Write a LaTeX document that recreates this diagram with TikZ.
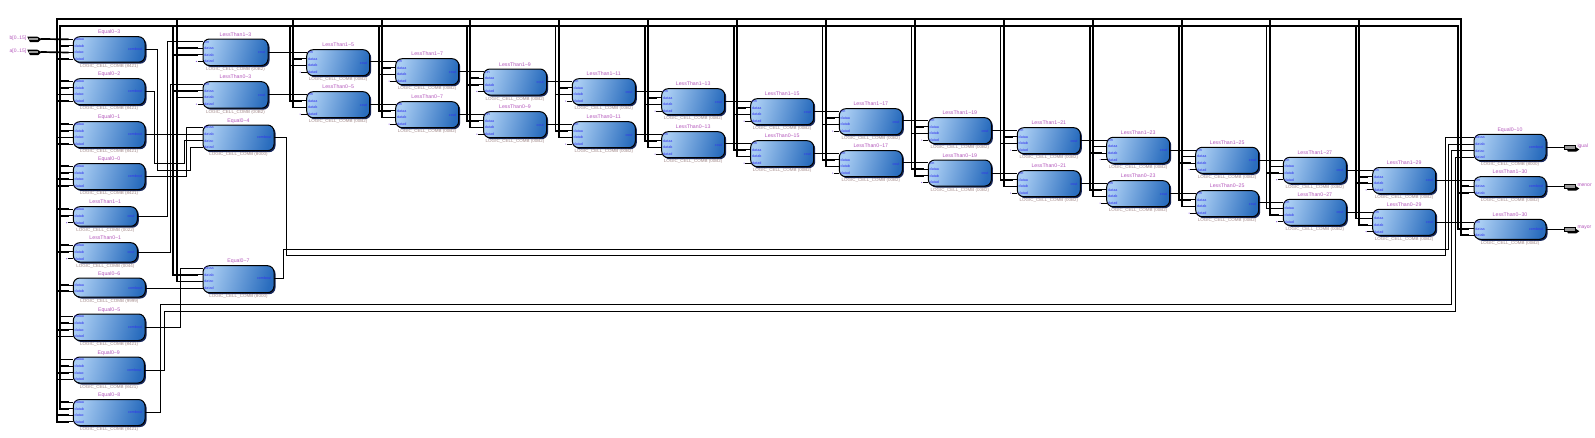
\documentclass[tikz,border=0pt]{standalone}
\usepackage{fontspec}
\setmainfont{Liberation Sans}
\definecolor{cellL}{HTML}{A9CDF3}
\definecolor{cellR}{HTML}{2A6DBE}
\definecolor{cellS}{HTML}{17275A}
\definecolor{titleC}{HTML}{B457BC}
\definecolor{subC}{HTML}{A58C8C}
\definecolor{pinC}{HTML}{3232EE}
\definecolor{tickC}{HTML}{8A55E6}
\definecolor{portG}{HTML}{9A9A9A}
\tikzset{
  cellbox/.style={draw=black,line width=1pt,rounded corners=6.5pt,inner sep=0pt,outer sep=0pt,
    left color=cellL,right color=cellR,shading angle=75,anchor=north west},
  celltitle/.style={text=titleC,font=\fontsize{5.2}{6}\selectfont,inner sep=0pt},
  cellsub/.style={text=subC,font=\fontsize{4.5}{5}\selectfont,inner sep=0pt},
  pinlab/.style={text=pinC,font=\fontsize{3.7}{4}\selectfont,inner sep=0pt},
  portlab/.style={text=titleC,font=\fontsize{5}{6}\selectfont,inner sep=0pt},
  wire/.style={line width=.85pt,draw=black},
  bus/.style={line width=1.7pt,draw=black,line cap=rect},
}
\def\pinsEq{2.6/dataa,9.2/datab,15.8/datac,22.4/datad}
\def\pinsTen{3/dataa,9.7/datab,16.4/datac,23/datad}
\def\pinsLt{2.8/cin,9.2/dataa,15.8/datab,22.4/datad}
\def\pinsSm{2.4/dataa,9.2/datab,16/datad}
\def\pinsEnd{3.3/cin,9.6/dataa,16/datab}
\def\pinsTwo{7/dataa,13/datab}
% name x y w h title sub outoff/outlabel pins
\newcommand\mkcell[9]{%
  \fill[cellS,rounded corners=6.5pt] (#2,#3) ++(1.5,1.5) rectangle +(#4,#5);
  \node[cellbox,minimum width=#4pt,minimum height=#5pt] (#1) at (#2,#3) {};
  \node[celltitle,anchor=base] (#1t) at ([yshift=2.9pt]#1.north) {#6};
  \node[cellsub,anchor=base] (#1s) at ([yshift=-5pt]#1.south) {LOGIC\_CELL\_COMB (#7)};
  \foreach \oo/\ll [count=\k] in #9 {
    \coordinate (#1p\k) at ([yshift=-\oo pt]#1.north west);
    \draw[wire] ([xshift=-5.5pt]#1p\k) -- (#1p\k);
    \node[pinlab,anchor=west] (#1l\k) at ([xshift=1.2pt]#1p\k) {\ll};
  }
  \foreach \oo/\ll in {#8} {
    \coordinate (#1o) at ([yshift=-\oo pt]#1.north east);
    \node[pinlab,anchor=east] (#1ol) at ([xshift=-2.6pt]#1o) {\ll};
  }
}
\newcommand\stub[2]{\draw[bus] (#1 |- #2) -- ([xshift=-5.5pt]#2);}
\newcommand\tick[1]{\fill[tickC] ([xshift=-6.6pt]#1) circle (.6pt);}
\newcommand\inport[3]{%
  \coordinate (#1) at (41.7,#2);
  \fill[black] (27.3,#2-2.4) -- (37,#2-2.4) -- (41.7,#2) -- (38,#2+3.2) -- (30,#2+3.2) -- cycle;
  \fill[portG] (29.3,#2-1) rectangle (38,#2+1);
  \node[portlab,anchor=east] (#1l) at (26.5,#2-1) {#3};
}
\newcommand\outport[3]{%
  \coordinate (#1) at (1564.3,#2);
  \fill[black] (1566,#2) -- (1576,#2) -- (1579.3,#2+2.2) -- (1576,#2+4.4) -- (1568,#2+4.4) -- cycle;
  \fill[portG] (1564.3,#2-2) rectangle (1575,#2+2);
  \draw[black,line width=.6pt] (1564.3,#2-2) rectangle (1575,#2+2);
  \node[portlab,anchor=west] (#1l) at (1577.3,#2-1) {#3};
}
\begin{document}
\begin{tikzpicture}[x=1pt,y=-1pt]
\useasboundingbox (0,0) rectangle (1595,437);
\fill[white] (0,0) rectangle (1595,437);
\def\tl{\textasciitilde}
% left column
\mkcell{Eq3}{73.3}{36.7}{71.7}{25.5}{Equal0\tl3}{8421}{12.4/combout}{\pinsEq}
\mkcell{Eq2}{73.3}{78.7}{71.7}{26}{Equal0\tl2}{8421}{12.4/combout}{\pinsEq}
\mkcell{Eq1}{73.3}{121.7}{71.7}{26}{Equal0\tl1}{8421}{12.4/combout}{\pinsEq}
\mkcell{Eq0}{73.3}{163.5}{71.7}{26}{Equal0\tl0}{8421}{12.6/combout}{\pinsEq}
\mkcell{SU}{73.3}{206.7}{64}{19.5}{LessThan1\tl1}{0022}{9.3/cout}{\pinsSm}
\mkcell{SL}{73.3}{242.7}{64}{19.3}{LessThan0\tl1}{0044}{9.6/cout}{\pinsSm}
\mkcell{Eq6}{73.3}{278}{72}{19}{Equal0\tl6}{9999}{10.3/combout}{\pinsTwo}
\mkcell{Eq5}{73.3}{314}{71.7}{26.5}{Equal0\tl5}{8421}{13.3/combout}{\pinsEq}
\mkcell{Eq9}{73.3}{357}{71}{26}{Equal0\tl9}{8421}{13.3/combout}{\pinsEq}
\mkcell{Eq8}{73.3}{399.5}{71.7}{26}{Equal0\tl8}{8421}{12.8/combout}{\pinsEq}
% second column
\mkcell{U3}{203}{39}{65}{26.5}{LessThan1\tl3}{00B2}{13.3/cout}{\pinsLt}
\mkcell{L3}{203}{81.7}{65}{26.5}{LessThan0\tl3}{00B2}{13.3/cout}{\pinsLt}
\mkcell{Eq4}{203}{125}{71}{25.7}{Equal0\tl4}{8000}{12.3/combout}{\pinsEq}
\mkcell{Eq7}{203}{265.7}{71}{27}{Equal0\tl7}{8000}{12.6/combout}{\pinsEq}
% ports
\inport{pb}{39}{b[0..15]}
\inport{pa}{52}{a[0..15]}
% main buses
\coordinate (VO1) at (57,19);
\coordinate (VI1) at (59.7,25.8);
\coordinate (VO2) at (176.7,19);
\coordinate (VI2) at (173.3,25.8);
\coordinate (VOe) at (1461,19);
\coordinate (VIe) at (1457.7,25.8);
\draw[bus] (VO1) -- (VOe);
\draw[bus] (VI1) -- (VIe);
\draw[bus] (VO1) |- ([xshift=-5.5pt]Eq8p4);
\draw[bus] (VI1) |- ([xshift=-5.5pt]Eq8p2);
\stub{VI1}{Eq8p1}\stub{VO1}{Eq8p3}
\draw[bus] (pb) -- ([xshift=-5.5pt]Eq3p1);
\draw[bus] (pa) -- ([xshift=-5.5pt]Eq3p3);
\stub{VI1}{Eq3p2}\stub{VO1}{Eq3p4}
\foreach \cc in {Eq2,Eq1,Eq0,Eq5,Eq9}{\stub{VI1}{\cc p1}\stub{VI1}{\cc p2}\stub{VO1}{\cc p3}\stub{VO1}{\cc p4}}
\stub{VO1}{SUp1}\stub{VI1}{SUp2}\tick{SUp3}
\stub{VI1}{SLp1}\stub{VO1}{SLp2}\tick{SLp3}
\stub{VI1}{Eq6p1}\stub{VO1}{Eq6p2}
% second column buses
\draw[bus] (VI2) |- ([xshift=-5.5pt]Eq7p2);
\draw[bus] (VO2) |- ([xshift=-5.5pt]Eq7p3);
\stub{VO2}{U3p2}\stub{VI2}{U3p3}\tick{U3p4}
\stub{VI2}{L3p2}\stub{VO2}{L3p3}\tick{L3p4}
% LessThan chain
\foreach \n/\x/\yu/\yl/\p in {5/306.7/49.7/91.7/3,7/395.7/58.7/101.7/5,9/483.5/69/111.7/7,11/572.3/78.7/121.7/9,
  13/661.7/88.7/131.7/11,15/750.7/98.7/140.7/13,17/839.3/108.7/150.7/15,19/928.3/117.7/160/17,
  21/1017.3/127.7/170.7/19,23/1106.7/137.3/180.7/21,25/1195.7/147.3/190.7/23,27/1283.3/157.3/199.3/25,
  29/1372.7/167.5/209.3/27}{
  \mkcell{U\n}{\x}{\yu}{63}{26}{LessThan1\tl\n}{00B2}{13.3/cout}{\pinsLt}
  \mkcell{L\n}{\x}{\yl}{63}{26}{LessThan0\tl\n}{00B2}{13.3/cout}{\pinsLt}
  \coordinate (VO\n) at ({\x-13.5},19);
  \coordinate (VI\n) at ({\x-16.8},25.8);
  \draw[bus] (VI\n) |- ([xshift=-5.5pt]L\n p2);
  \draw[bus] (VO\n) |- ([xshift=-5.5pt]L\n p3);
  \stub{VO\n}{U\n p2}\stub{VI\n}{U\n p3}
  \tick{U\n p4}\tick{L\n p4}
  \draw[wire] (U\n p1 -| U\p.east) -- (U\n p1);
  \draw[wire] (L\n p1 -| L\p.east) -- (L\n p1);
}
% right column
\mkcell{Eq10}{1474}{134.3}{72}{26.4}{Equal0\tl10}{8000}{13/combout}{\pinsTen}
\mkcell{UE}{1474}{176.7}{72}{20}{LessThan1\tl30}{00B2}{9.5/combout}{\pinsEnd}
\mkcell{LE}{1474}{219.3}{72}{20}{LessThan0\tl30}{00B2}{9.7/combout}{\pinsEnd}
\draw[bus] (VIe) |- ([xshift=-5.5pt]LEp2);
\draw[bus] (VOe) |- ([xshift=-5.5pt]LEp3);
\stub{VOe}{UEp2}\stub{VIe}{UEp3}
\draw[wire] (UEp1 -| U29.east) -- (UEp1);
\draw[wire] (LEp1 -| L29.east) -- (LEp1);
% first-stage wiring
\draw[wire] (SUo) -| (167.7,42) |- (U3p1);
\draw[wire] (SLo) -| (170.7,85) |- (L3p1);
\draw[wire] (Eq4p2 -| Eq1.east) -- (Eq4p2);
\draw[wire] (Eq0o) -| (186.7,127.3) |- (Eq4p1);
\draw[wire] (Eq2o) -| (154.7,163.3) -- (184,163.3) |- (Eq4p3);
\draw[wire] (Eq3o) -| (157.7,170) -- (190,170) |- (Eq4p4);
\draw[wire] (Eq7p4 -| Eq6.east) -- (Eq7p4);
\draw[wire] (Eq5o) -| (180.3,268) |- (Eq7p1);
% long returns
\draw[wire] (Eq4o) -| (286.7,255.3) -- (1445.7,255.3) |- (Eq10p1);
\draw[wire] (Eq7o) -| (283.3,249.3) -- (1448.3,249.3) |- (Eq10p2);
\draw[wire] (Eq8o) -| (160.7,304.3) -- (1451.3,304.3) |- (Eq10p3);
\draw[wire] (Eq9o) -| (164.3,311.7) -- (1455.7,311.7) |- (Eq10p4);
% outputs
\outport{oeq}{147.3}{igual}
\outport{omen}{186.3}{menor}
\outport{omay}{229}{mayor}
\draw[wire] (Eq10.east |- oeq) -- (oeq);
\draw[wire] (UE.east |- omen) -- (omen);
\draw[wire] (LE.east |- omay) -- (omay);
\end{tikzpicture}
\end{document}
